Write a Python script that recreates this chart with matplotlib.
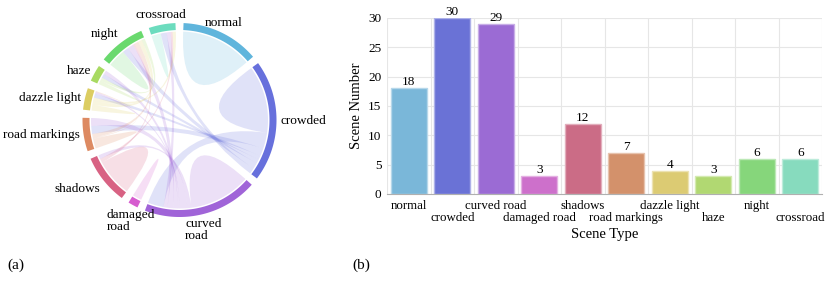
import numpy as np
import matplotlib
matplotlib.use("Agg")
import matplotlib.pyplot as plt
from matplotlib.path import Path
from matplotlib.patches import PathPatch
from matplotlib.colors import to_rgb

plt.rcParams['font.family'] = ['Liberation Serif', 'DejaVu Serif']

# ---------------- data ----------------
categories = ["normal", "crowded", "curved road", "damaged road", "shadows",
              "road markings", "dazzle light", "haze", "night", "crossroad"]
scene_counts = [18, 30, 29, 3, 12, 7, 4, 3, 6, 6]

# co-occurrence matrix (symmetric) used for the chord diagram, estimated
co_occurrence = [
    # nor  crw   cur   dam  sha  rdm  daz  haz  nig  crs
    [18.0, 0.0,  0.0,  0.0, 0.0, 0.0, 0.0, 0.0, 0.0, 0.0],   # normal
    [0.0, 17.0,  4.0,  0.0, 0.0, 2.0, 1.0, 1.0, 1.5, 1.5],   # crowded
    [0.0,  4.0, 15.5,  0.0, 1.0, 2.0, 0.5, 1.0, 1.5, 1.0],   # curved road
    [0.0,  0.0,  0.0,  2.3, 0.0, 0.0, 0.0, 0.0, 0.0, 0.0],   # damaged road
    [0.0,  0.0,  1.0,  0.0, 9.5, 0.0, 0.0, 0.0, 0.5, 0.5],   # shadows
    [0.0,  2.0,  2.0,  0.0, 0.0, 2.5, 0.2, 0.0, 1.0, 0.0],   # road markings
    [0.0,  1.0,  0.5,  0.0, 0.0, 0.2, 1.5, 0.0, 1.0, 0.8],   # dazzle light
    [0.0,  1.0,  1.0,  0.0, 0.0, 0.0, 0.0, 1.0, 0.8, 0.0],   # haze
    [0.0,  1.5,  1.5,  0.0, 0.5, 1.0, 1.0, 0.8, 4.5, 0.0],   # night
    [0.0,  1.5,  1.0,  0.0, 0.5, 0.0, 0.8, 0.0, 0.0, 2.35],  # crossroad
]

chord_labels = ["normal", "crowded", "curved\nroad", "damaged\nroad", "shadows",
                "road markings", "dazzle light", "haze", "night", "crossroad"]

# ---------------- style ----------------
arc_colors = ["#60b5dc", "#6770dc", "#a064d8", "#d65ccf", "#d86283",
              "#dd8a62", "#dccd62", "#a8da62", "#6ad96e", "#6cdcbe"]
bar_colors = ["#7ab7d9", "#6a72d6", "#9b6bd4", "#cd70cb", "#cb6c86",
              "#d3916b", "#dccb73", "#b1d872", "#86d67b", "#87dbbe"]

W, H = 830, 282
fig = plt.figure(figsize=(W / 100, H / 100), dpi=100)

# ---------------- chord diagram ----------------
axc = fig.add_axes([0, 0, 340 / W, 1])
axc.set_xlim(0, 340)
axc.set_ylim(H, 0)
axc.set_aspect('equal')
axc.axis('off')

cx, cy = 179.5, 120.0
R_out, R_in, R_ch = 97.0, 90.0, 88.5
gap = 4.8
M = np.array(co_occurrence)
n = len(categories)
unit = (360.0 - n * gap) / M.sum()


def pt(theta, r):
    t = np.radians(theta)
    return (cx + r * np.sin(t), cy - r * np.cos(t))


def arc_pts(t1, t2, r):
    ts = np.linspace(t1, t2, max(int(abs(t2 - t1)) + 2, 3))
    return [pt(t, r) for t in ts]


# group and subgroup angles
group_ang = []
sub_ang = {}
theta = gap / 2
for i in range(n):
    start = theta
    for t in range(n):
        j = (i + t) % n
        v = M[i, j]
        if v > 0:
            sub_ang[(i, j)] = (theta, theta + v * unit)
            theta += v * unit
    group_ang.append((start, theta))
    theta += gap

# chords
for i in range(n):
    for j in range(i, n):
        if M[i, j] <= 0:
            continue
        a1, a2 = sub_ang[(i, j)]
        b1, b2 = sub_ang[(j, i)]
        verts, codes = [], []
        pa = arc_pts(a1, a2, R_ch)
        verts += pa
        codes += [Path.MOVETO] + [Path.LINETO] * (len(pa) - 1)
        if i == j:
            verts += [(cx, cy), pt(a1, R_ch)]
            codes += [Path.CURVE3, Path.CURVE3]
        else:
            verts += [(cx, cy), pt(b1, R_ch)]
            codes += [Path.CURVE3, Path.CURVE3]
            pb = arc_pts(b1, b2, R_ch)[1:]
            verts += pb
            codes += [Path.LINETO] * len(pb)
            verts += [(cx, cy), pt(a1, R_ch)]
            codes += [Path.CURVE3, Path.CURVE3]
        verts.append(pt(a1, R_ch))
        codes.append(Path.CLOSEPOLY)
        axc.add_patch(PathPatch(Path(verts, codes), facecolor=arc_colors[i],
                                edgecolor='none', alpha=0.2))

# group arcs and labels
for i, (g1, g2) in enumerate(group_ang):
    outer = arc_pts(g1, g2, R_out)
    inner = arc_pts(g2, g1, R_in)
    verts = outer + inner + [outer[0]]
    codes = [Path.MOVETO] + [Path.LINETO] * (len(verts) - 2) + [Path.CLOSEPOLY]
    axc.add_patch(PathPatch(Path(verts, codes), facecolor=arc_colors[i],
                            edgecolor='none'))
    mid = (g1 + g2) / 2
    s, c = np.sin(np.radians(mid)), np.cos(np.radians(mid))
    lx, ly = pt(mid, R_out + 4)
    ha = 'left' if s > 0.5 else ('right' if s < -0.5 else 'center')
    va = 'bottom' if c > 0.5 else ('top' if c < -0.5 else 'center')
    axc.text(lx, ly, chord_labels[i], ha=ha, va=va, fontsize=9.6,
             multialignment='left', linespacing=1.0)

fig.text(7 / W, 1 - 265 / H, "(a)", fontsize=11, va='center', ha='left')
fig.text(352 / W, 1 - 265 / H, "(b)", fontsize=11, va='center', ha='left')

# ---------------- bar chart ----------------
axb = fig.add_axes([387 / W, 1 - 194 / H, (822 - 387) / W, (194 - 18) / H])
x = np.arange(len(categories))


def lighten(col, f=0.45):
    r, g, b = to_rgb(col)
    return (r + (1 - r) * f, g + (1 - g) * f, b + (1 - b) * f)


axb.bar(x, scene_counts, width=0.82, color=bar_colors,
        edgecolor=[lighten(c) for c in bar_colors], linewidth=1.0, zorder=3)
for xi, v in zip(x, scene_counts):
    axb.text(xi, v, str(v), ha='center', va='bottom', fontsize=9.5, zorder=4)

axb.set_xlim(-0.5, len(categories) - 0.5)
axb.set_ylim(0, 30)
axb.set_yticks(range(0, 31, 5))
axb.set_xticks(x)
axb.set_xticklabels([])
xtrans = axb.get_xaxis_transform()
for k, c in enumerate(categories):
    yoff = -0.035 if k % 2 == 0 else -0.10
    axb.text(x[k], yoff, c, transform=xtrans, ha='center', va='top',
             fontsize=9.3)
axb.tick_params(axis='both', length=0, labelsize=9.5)
axb.tick_params(axis='y', pad=4)
for yv in range(5, 31, 5):
    axb.axhline(yv, color='#e6e6e6', lw=0.8, zorder=0)
for xv in np.arange(-0.5, len(categories), 1.0):
    axb.axvline(xv, color='#e6e6e6', lw=0.8, zorder=0)
for sp in ['top', 'right', 'left']:
    axb.spines[sp].set_visible(False)
axb.spines['bottom'].set_color('#b0b0b0')
axb.spines['bottom'].set_linewidth(0.8)
axb.spines['bottom'].set_zorder(5)
axb.set_xlabel("Scene Type", fontsize=10.5, labelpad=21)
axb.set_ylabel("Scene Number", fontsize=10.5, labelpad=4)

fig.savefig("out.png", dpi=100)
